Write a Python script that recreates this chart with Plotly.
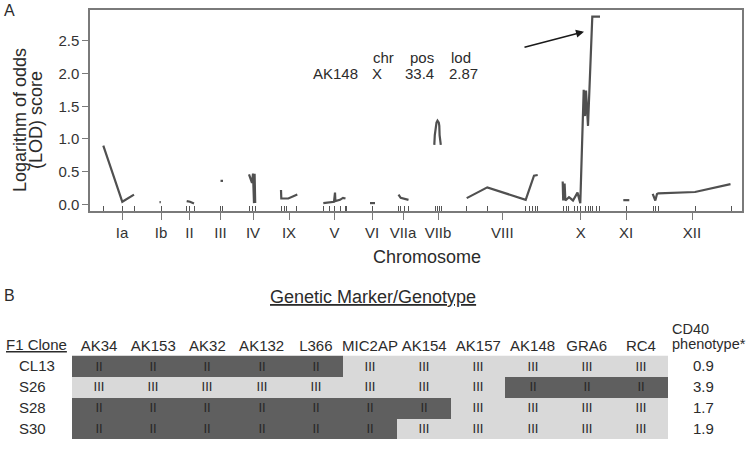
import plotly.graph_objects as go

W, H = 747, 461

# ---------------- Panel A data ----------------
chrom_names = ["Ia", "Ib", "II", "III", "IV", "IX", "V", "VI", "VIIa", "VIIb", "VIII", "X", "XI", "XII"]
chrom_centers = [32, 71, 99.5, 130.5, 163, 199, 244.5, 282, 313, 348, 412.3, 490.7, 536, 602]

# LOD profile per chromosome (cumulative map position, LOD)
seg_pos = [
    [13.3, 32.3, 44],
    [69.5, 70.8],
    [96.7, 100, 104],
    [130.5, 133],
    [159, 162, 163, 164, 164.6, 165.2],
    [191, 191.3, 198.3, 207.3],
    [233.3, 244, 245, 245.4, 250, 253, 255.5],
    [280, 285],
    [308.5, 310.7, 318.5],
    [344.3, 344.8, 346.5, 347.5, 348.8, 349.3, 349.6, 350.8],
    [376.7, 397.3, 435.7, 444, 447.7],
    [472.7, 473.2, 474.6, 475.4, 479, 483, 487.5, 490.3, 493.7, 495, 496, 498, 502.3, 510],
    [533.3, 539.3],
    [562.7, 565.3, 567, 568.3, 605, 640.5],
]
seg_lod = [
    [0.90, 0.04, 0.15],
    [0.035, 0.035],
    [0.05, 0.04, 0.015],
    [0.36, 0.36],
    [0.46, 0.33, 0.47, 0.02, 0.47, 0.02],
    [0.22, 0.09, 0.09, 0.15],
    [0.02, 0.04, 0.18, 0.05, 0.07, 0.10, 0.09],
    [0.02, 0.02],
    [0.15, 0.10, 0.07],
    [0.91, 1.06, 1.25, 1.28, 1.25, 1.20, 1.06, 0.91],
    [0.096, 0.26, 0.07, 0.44, 0.45],
    [0.35, 0.06, 0.32, 0.06, 0.11, 0.06, 0.18, 0.02, 1.75, 1.35, 1.74, 1.20, 2.87, 2.87],
    [0.065, 0.065],
    [0.16, 0.06, 0.16, 0.17, 0.19, 0.31],
]

marker_pos = [13, 32, 44, 71, 96.7, 99.3, 104, 130, 132.5, 159, 162, 165,
              191.7, 194, 196.7, 206.7, 233.5, 239.5, 244.3, 250, 255, 256.5, 282,
              308.3, 310.7, 314.3, 318.3, 345, 347, 349, 351,
              376.7, 397.3, 435.7, 439, 442.3, 445, 447.7,
              473.3, 476, 478.3, 484, 487.3, 490.7, 495, 498.3, 500.7, 502.7, 506, 509.3,
              536, 563.3, 565.7, 568.3, 605, 641]

y_ticks = [0, 0.5, 1.0, 1.5, 2.0, 2.5]
peak_marker, peak_chr, peak_pos, peak_lod = "AK148", "X", 33.4, 2.87
arrow_target = (494, 2.64)

# ---------------- Panel B data ----------------
markers = ["AK34", "AK153", "AK32", "AK132", "L366", "MIC2AP", "AK154", "AK157", "AK148", "GRA6", "RC4"]
clones = ["CL13", "S26", "S28", "S30"]
genotypes = [
    ["II"] * 5 + ["III"] * 6,
    ["III"] * 8 + ["II"] * 3,
    ["II"] * 7 + ["III"] * 4,
    ["II"] * 6 + ["III"] * 5,
]
cd40 = [0.9, 3.9, 1.7, 1.9]

FONT = "Liberation Sans, Arial, sans-serif"
TXT = "#2b2b2b"
AXC = "#7a7a7a"

def px_x(p):
    return p / W

def px_y(p):
    return (H - p) / H

fig = go.Figure()

# LOD curve
xs, ys = [], []
for p, l in zip(seg_pos, seg_lod):
    xs += p + [None]
    ys += l + [None]
fig.add_trace(go.Scatter(x=xs, y=ys, mode="lines", line=dict(color="#505050", width=2.2),
                         connectgaps=False, hoverinfo="skip", showlegend=False,
                         xaxis="x", yaxis="y"))
# invisible trace for rug axis
fig.add_trace(go.Scatter(x=marker_pos, y=[0] * len(marker_pos), mode="markers",
                         marker=dict(opacity=0), hoverinfo="skip", showlegend=False,
                         xaxis="x2", yaxis="y"))

# Genotype table heatmap
z = [[1 if g == "II" else 0 for g in row] for row in genotypes]
fig.add_trace(go.Heatmap(z=z, x=markers, y=clones, text=genotypes, texttemplate="%{text}",
                         textfont=dict(family="Liberation Sans Narrow, " + FONT, size=13, color="#262626"),
                         colorscale=[[0, "#d9d9d9"], [1, "#5f5f5f"]], zmin=0, zmax=1,
                         showscale=False, hoverinfo="skip", xgap=0, ygap=0,
                         xaxis="x3", yaxis="y3"))

xdom = [px_x(90), px_x(742)]
ydom = [px_y(212), px_y(10)]

annotations = [
    dict(text="A", x=px_x(2), y=px_y(11), xref="paper", yref="paper", xanchor="left", yanchor="middle",
         showarrow=False, font=dict(size=16, color=TXT)),
    dict(text="B", x=px_x(2), y=px_y(297), xref="paper", yref="paper", xanchor="left", yanchor="middle",
         showarrow=False, font=dict(size=16, color=TXT)),
    dict(text="Logarithm of odds", x=px_x(20), y=px_y(120.5), xref="paper", yref="paper", textangle=-90,
         xanchor="center", yanchor="middle", showarrow=False, font=dict(size=18, color=TXT)),
    dict(text="(LOD) score", x=px_x(36), y=px_y(120.5), xref="paper", yref="paper", textangle=-90,
         xanchor="center", yanchor="middle", showarrow=False, font=dict(size=18, color=TXT)),
    dict(text="Chromosome", x=px_x(427), y=px_y(258), xref="paper", yref="paper",
         xanchor="center", yanchor="middle", showarrow=False, font=dict(size=18, color=TXT)),
    # peak info
    dict(text="chr", x=px_x(383), y=px_y(47), xref="paper", yref="paper", showarrow=False,
         font=dict(size=15, color=TXT)),
    dict(text="pos", x=px_x(421.5), y=px_y(47), xref="paper", yref="paper", showarrow=False,
         font=dict(size=15, color=TXT)),
    dict(text="lod", x=px_x(460.5), y=px_y(47), xref="paper", yref="paper", showarrow=False,
         font=dict(size=15, color=TXT)),
    dict(text=peak_marker, x=px_x(335.5), y=px_y(63), xref="paper", yref="paper", showarrow=False,
         font=dict(size=15, color=TXT)),
    dict(text=peak_chr, x=px_x(377.5), y=px_y(63), xref="paper", yref="paper", showarrow=False,
         font=dict(size=15, color=TXT)),
    dict(text=f"{peak_pos:.1f}", x=px_x(419.5), y=px_y(63), xref="paper", yref="paper", showarrow=False,
         font=dict(size=15, color=TXT)),
    dict(text=f"{peak_lod:.2f}", x=px_x(463.5), y=px_y(63), xref="paper", yref="paper", showarrow=False,
         font=dict(size=15, color=TXT)),
    dict(text="", x=arrow_target[0], y=arrow_target[1], xref="x", yref="y", showarrow=True,
         ax=-61, ay=16, arrowhead=2, arrowsize=1, arrowwidth=1.6, arrowcolor="#1a1a1a"),
    # Panel B texts
    dict(text="<u>Genetic Marker/Genotype</u>", x=px_x(268), y=px_y(298), xref="paper", yref="paper",
         xanchor="left", yanchor="middle", showarrow=False, font=dict(size=18, color=TXT)),
    dict(text="<u>F1 Clone</u>", x=px_x(4), y=px_y(346), xref="paper", yref="paper",
         xanchor="left", yanchor="middle", showarrow=False, font=dict(size=15, color=TXT)),
    dict(text="CD40", x=px_x(670), y=px_y(330), xref="paper", yref="paper",
         xanchor="left", yanchor="middle", showarrow=False, font=dict(size=14.5, color=TXT)),
    dict(text="phenotype*", x=px_x(670), y=px_y(346), xref="paper", yref="paper",
         xanchor="left", yanchor="middle", showarrow=False, font=dict(size=14.5, color=TXT)),
]
for c, v in zip(clones, cd40):
    annotations.append(dict(text=c, x=px_x(17), y=c, xref="paper", yref="y3", xanchor="left",
                            yanchor="middle", showarrow=False, font=dict(size=15, color=TXT)))
    annotations.append(dict(text=f"{v:.1f}", x=px_x(703), y=c, xref="paper", yref="y3", xanchor="center",
                            yanchor="middle", showarrow=False, font=dict(size=15, color=TXT)))

fig.update_layout(
    width=W, height=H, margin=dict(l=0, r=0, t=0, b=0),
    paper_bgcolor="white", plot_bgcolor="white",
    font=dict(family=FONT, color=TXT),
    showlegend=False,
    xaxis=dict(domain=xdom, range=[0, 652], anchor="y", tickvals=chrom_centers, ticktext=chrom_names,
               ticks="outside", ticklen=7, tickwidth=1.3, tickcolor=AXC, showline=True, linecolor=AXC,
               linewidth=1.5, mirror=True, showgrid=False, zeroline=False,
               tickfont=dict(size=15, color="#333333")),
    xaxis2=dict(overlaying="x", matches="x", anchor="y", tickvals=marker_pos, ticks="inside", ticklen=5,
                tickwidth=1, tickcolor="#555555", showticklabels=False, showline=False, showgrid=False,
                zeroline=False),
    yaxis=dict(domain=ydom, range=[-0.102, 2.972], anchor="x", tickvals=y_ticks,
               ticktext=[f"{t:.1f}" for t in y_ticks], ticks="outside", ticklen=6, tickwidth=1.3,
               tickcolor=AXC, showline=True, linecolor=AXC, linewidth=1.5, mirror=True,
               showgrid=False, zeroline=False, tickfont=dict(size=15, color="#333333")),
    xaxis3=dict(domain=[px_x(72), px_x(668)], anchor="y3", side="top", ticks="", showline=False,
                showgrid=False, zeroline=False, tickfont=dict(size=15, color=TXT)),
    yaxis3=dict(domain=[px_y(441), px_y(357)], anchor="x3", autorange="reversed", showticklabels=False,
                ticks="", showline=False, showgrid=False, zeroline=False),
    annotations=annotations,
)

fig.write_html("out.html", config={"displayModeBar": False},
               post_script="document.body.style.margin='0';")
